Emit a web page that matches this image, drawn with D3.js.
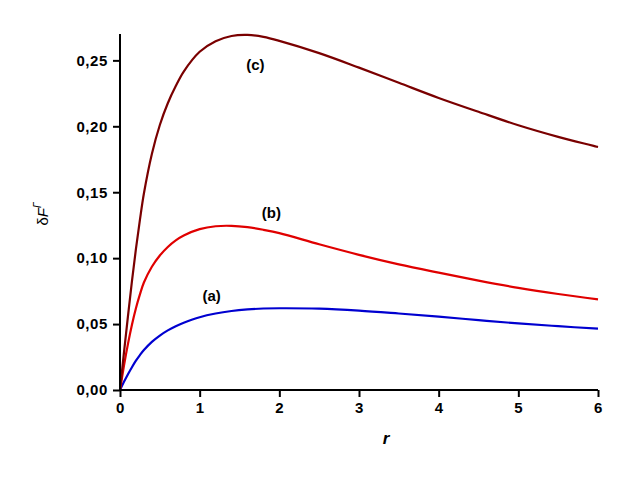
<!DOCTYPE html>
<html><head><meta charset="utf-8">
<script src="https://cdn.jsdelivr.net/npm/d3@7"></script>
<style>body{margin:0;background:#fff}svg{display:block}text{font-family:"Liberation Sans",Arial,sans-serif}</style>
</head><body>
<svg id="chart" width="640" height="485"></svg>
<script>
const rValues = [0, 0.05, 0.1, 0.15, 0.2, 0.25, 0.3, 0.4, 0.5, 0.6, 0.7, 0.8, 1.0, 1.2, 1.4, 1.6, 1.8, 2.0, 2.5, 3.0, 3.5, 4.0, 4.5, 5.0, 5.5, 6.0];
const seriesC = [0, 0.0285, 0.056, 0.0825, 0.107, 0.129, 0.149, 0.179, 0.201, 0.2175, 0.2305, 0.2415, 0.2565, 0.2645, 0.2685, 0.2693, 0.2678, 0.2648, 0.2555, 0.2445, 0.233, 0.2215, 0.211, 0.2008, 0.192, 0.1843];
const seriesB = [0, 0.0185, 0.035, 0.0495, 0.062, 0.0725, 0.0815, 0.0935, 0.102, 0.1085, 0.1135, 0.1172, 0.122, 0.1242, 0.1245, 0.1235, 0.1215, 0.119, 0.1105, 0.1025, 0.0953, 0.089, 0.083, 0.0775, 0.0728, 0.0687];
const seriesA = [0, 0.0062, 0.012, 0.0173, 0.0222, 0.0265, 0.0303, 0.0365, 0.0413, 0.0452, 0.0484, 0.051, 0.0552, 0.058, 0.0599, 0.0611, 0.0618, 0.062, 0.0617, 0.0602, 0.058, 0.0556, 0.053, 0.0505, 0.0484, 0.0465];
const seriesNames = ["(a)", "(b)", "(c)"];
const seriesColors = ["#0000d0", "#e00000", "#7a0000"];
const xTicks = [0, 1, 2, 3, 4, 5, 6];
const yTicks = [0, 0.05, 0.10, 0.15, 0.20, 0.25];

const svg = d3.select("#chart");
const x = d3.scaleLinear().domain([0, 6]).range([120, 598]);
const y = d3.scaleLinear().domain([0, 0.27]).range([390, 34]);
const fmtY = v => d3.format(".2f")(v).replace(".", ",");

const series = [seriesA, seriesB, seriesC];
const line = d3.line().x(d => x(d[0])).y(d => y(d[1])).curve(d3.curveCatmullRom.alpha(0.5));
series.forEach((s, i) => {
  svg.append("path")
    .datum(rValues.map((r, k) => [r, s[k]]))
    .attr("fill", "none").attr("stroke", seriesColors[i]).attr("stroke-width", 2.2)
    .attr("d", line);
});

const tickFont = g => g.selectAll("text").attr("font-size", 15).attr("font-weight", "bold")
  .attr("letter-spacing", "0.6px").attr("fill", "#000");

const gx = svg.append("g").attr("transform", "translate(0,390)");
gx.call(d3.axisBottom(x).tickValues(d3.range(0.5, 6, 1)).tickSize(4).tickFormat(""));
gx.call(d3.axisBottom(x).tickValues(xTicks).tickSize(7).tickPadding(5).tickFormat(d3.format("d")));
gx.selectAll(".domain").attr("stroke-width", 2).attr("d", "M120,0H598");
gx.selectAll(".tick line").attr("stroke-width", 2);
tickFont(gx);

const gy = svg.append("g").attr("transform", "translate(120,0)");
gy.call(d3.axisLeft(y).tickValues(d3.range(0.025, 0.27, 0.05)).tickSize(4).tickFormat(""));
gy.call(d3.axisLeft(y).tickValues(yTicks).tickSize(7).tickPadding(5).tickFormat(fmtY));
gy.selectAll(".domain").attr("stroke-width", 2).attr("d", "M0,390V34");
gy.selectAll(".tick line").attr("stroke-width", 2);
tickFont(gy);

// series labels
const labelPos = [[1.15, 0.0705], [1.9, 0.1335], [1.7, 0.2455]];
seriesNames.forEach((n, i) => {
  svg.append("text").attr("x", x(labelPos[i][0])).attr("y", y(labelPos[i][1]))
    .attr("text-anchor", "middle").attr("dominant-baseline", "middle")
    .attr("font-size", 15).attr("font-weight", "bold").text(n);
});

// axis titles
svg.append("text").attr("x", 386).attr("y", 444).attr("text-anchor", "middle")
  .attr("font-size", 17).attr("font-weight", "bold").attr("font-style", "italic").text("r");
const yt = svg.append("text").attr("transform", "translate(48,214) rotate(-90)")
  .attr("text-anchor", "middle").attr("font-size", 15);
yt.append("tspan").text("δ");
yt.append("tspan").attr("font-style", "italic").text("F");
yt.append("tspan").attr("font-size", 10).attr("dy", -7).attr("font-style", "italic").text("Γ");
</script>
</body></html>
